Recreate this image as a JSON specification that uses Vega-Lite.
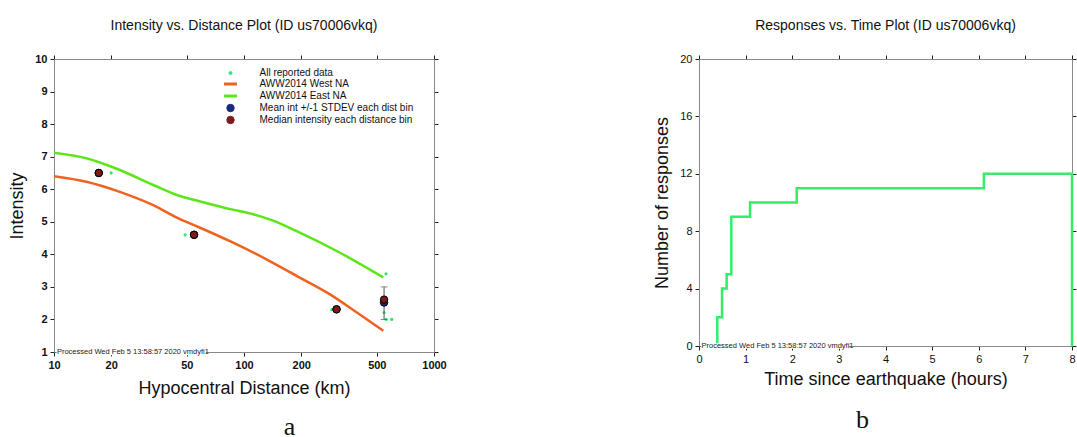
{
  "$schema": "https://vega.github.io/schema/vega-lite/v6.json",
  "background": "white",
  "padding": {"left": 8, "top": 19, "right": 0, "bottom": 0},
  "config": {
    "view": {"stroke": null},
    "font": "Liberation Sans",
    "title": {"font": "Liberation Sans", "fontSize": 14, "fontWeight": "normal", "color": "#111"},
    "axis": {"domainColor": "#8a8a8a", "tickColor": "#222", "tickSize": 4, "labelPadding": 3, "labelFont": "Liberation Sans", "labelFontSize": 11, "labelColor": "#111", "titleFont": "Liberation Sans", "titleFontSize": 18, "titleFontWeight": "normal", "titleColor": "#111", "grid": false}
  },
  "spacing": 206,
  "hconcat": [
    {
      "title": {"text": "a", "orient": "bottom", "anchor": "middle", "font": "Liberation Serif", "fontSize": 26, "offset": 17, "dx": 62, "color": "#111"},
      "vconcat": [
        {
          "title": {"text": "Intensity vs. Distance Plot (ID us70006vkq)", "offset": 20},
          "width": 380,
          "height": 293,
          "resolve": {"axis": {"x": "independent", "y": "independent"}},
          "layer": [
            {
              "data": {"values": [
                {"series": "AWW2014 West NA", "d": 10, "I": 6.40},
                {"series": "AWW2014 West NA", "d": 14.8, "I": 6.23},
                {"series": "AWW2014 West NA", "d": 22.2, "I": 5.92},
                {"series": "AWW2014 West NA", "d": 33.3, "I": 5.51},
                {"series": "AWW2014 West NA", "d": 46, "I": 5.08},
                {"series": "AWW2014 West NA", "d": 57.5, "I": 4.84},
                {"series": "AWW2014 West NA", "d": 86, "I": 4.38},
                {"series": "AWW2014 West NA", "d": 129, "I": 3.87},
                {"series": "AWW2014 West NA", "d": 193, "I": 3.31},
                {"series": "AWW2014 West NA", "d": 289, "I": 2.74},
                {"series": "AWW2014 West NA", "d": 400, "I": 2.18},
                {"series": "AWW2014 West NA", "d": 541, "I": 1.65},
                {"series": "AWW2014 East NA", "d": 10, "I": 7.12},
                {"series": "AWW2014 East NA", "d": 14.8, "I": 6.95},
                {"series": "AWW2014 East NA", "d": 22.2, "I": 6.59},
                {"series": "AWW2014 East NA", "d": 33.3, "I": 6.13},
                {"series": "AWW2014 East NA", "d": 46, "I": 5.79},
                {"series": "AWW2014 East NA", "d": 57.5, "I": 5.64},
                {"series": "AWW2014 East NA", "d": 86, "I": 5.38},
                {"series": "AWW2014 East NA", "d": 112, "I": 5.23},
                {"series": "AWW2014 East NA", "d": 140, "I": 5.05},
                {"series": "AWW2014 East NA", "d": 193, "I": 4.69},
                {"series": "AWW2014 East NA", "d": 313, "I": 4.08},
                {"series": "AWW2014 East NA", "d": 541, "I": 3.29}
              ]},
              "mark": {"type": "line", "strokeWidth": 2.5, "interpolate": "monotone"},
              "encoding": {
                "x": {"field": "d", "type": "quantitative", "scale": {"type": "log", "domain": [10, 1000]},
                      "axis": {"orient": "bottom", "values": [10, 20, 50, 100, 200, 500, 1000], "format": "d", "labelFontWeight": "bold", "title": "Hypocentral Distance (km)", "titlePadding": 9, "labelFlush": false}},
                "y": {"field": "I", "type": "quantitative", "scale": {"domain": [1, 10], "nice": false, "zero": false},
                      "axis": {"orient": "left", "values": [1, 2, 3, 4, 5, 6, 7, 8, 9, 10], "labelFontWeight": "bold", "title": "Intensity", "titlePadding": 8, "labelFlush": false}},
                "color": {"field": "series", "type": "nominal",
                  "scale": {"domain": ["All reported data", "AWW2014 West NA", "AWW2014 East NA", "Mean int +/-1 STDEV each dist bin", "Median intensity each distance bin"],
                            "range": ["#22ee66", "#f0621f", "#5be619", "#1c2a7a", "#7a1c1c"]},
                  "legend": {
                    "orient": "none", "legendX": 171.5, "legendY": 9, "title": null,
                    "labelFont": "Liberation Sans", "labelFontSize": 10, "labelColor": "#111",
                    "rowPadding": 0, "symbolSize": 60, "labelOffset": 24,
                    "encode": {"symbols": {"update": {
                      "shape": {"signal": "datum.value == 'AWW2014 West NA' || datum.value == 'AWW2014 East NA' ? 'stroke' : 'circle'"},
                      "size": {"signal": "datum.value == 'All reported data' ? 9 : (datum.value == 'AWW2014 West NA' || datum.value == 'AWW2014 East NA') ? 170 : 55"},
                      "fill": {"signal": "datum.value == 'All reported data' ? '#22ee66' : datum.value == 'Mean int +/-1 STDEV each dist bin' ? '#1c2a7a' : datum.value == 'Median intensity each distance bin' ? '#7a1c1c' : 'transparent'"},
                      "stroke": {"signal": "datum.value == 'AWW2014 West NA' ? '#f0621f' : datum.value == 'AWW2014 East NA' ? '#5be619' : datum.value == 'All reported data' ? 'transparent' : '#000'"},
                      "strokeWidth": {"signal": "(datum.value == 'AWW2014 West NA' || datum.value == 'AWW2014 East NA') ? 3 : 1"},
                      "opacity": {"value": 1}
                    }}}
                  }}
              }
            },
            {
              "data": {"values": [
                {"series": "All reported data", "d": 20, "I": 6.5},
                {"series": "All reported data", "d": 49, "I": 4.6},
                {"series": "All reported data", "d": 290, "I": 2.3},
                {"series": "All reported data", "d": 559, "I": 3.4},
                {"series": "All reported data", "d": 546, "I": 2.21},
                {"series": "All reported data", "d": 559, "I": 2.0},
                {"series": "All reported data", "d": 599, "I": 2.0}
              ]},
              "mark": {"type": "point", "filled": true, "size": 10, "opacity": 1},
              "encoding": {
                "x": {"field": "d", "type": "quantitative", "axis": {"orient": "top", "values": [10, 20, 50, 100, 200, 500, 1000], "labels": false, "title": null}},
                "y": {"field": "I", "type": "quantitative", "axis": {"orient": "right", "values": [1, 2, 3, 4, 5, 6, 7, 8, 9, 10], "labels": false, "title": null}},
                "color": {"field": "series", "type": "nominal", "legend": null}
              }
            },
            {
              "data": {"values": [{"d": 546, "lo": 2.0, "hi": 3.0}]},
              "mark": {"type": "rule", "color": "#555", "strokeWidth": 1},
              "encoding": {
                "x": {"field": "d", "type": "quantitative", "axis": null},
                "y": {"field": "lo", "type": "quantitative", "axis": null},
                "y2": {"field": "hi"}
              }
            },
            {
              "data": {"values": [{"d": 546, "v": 2.0}, {"d": 546, "v": 3.0}]},
              "mark": {"type": "tick", "orient": "horizontal", "color": "#555", "size": 7, "thickness": 1},
              "encoding": {
                "x": {"field": "d", "type": "quantitative", "axis": null},
                "y": {"field": "v", "type": "quantitative", "axis": null}
              }
            },
            {
              "data": {"values": [
                {"series": "Mean int +/-1 STDEV each dist bin", "d": 17.2, "I": 6.5},
                {"series": "Mean int +/-1 STDEV each dist bin", "d": 54.6, "I": 4.6},
                {"series": "Mean int +/-1 STDEV each dist bin", "d": 307, "I": 2.31},
                {"series": "Mean int +/-1 STDEV each dist bin", "d": 546, "I": 2.52},
                {"series": "Median intensity each distance bin", "d": 17.2, "I": 6.5},
                {"series": "Median intensity each distance bin", "d": 54.6, "I": 4.6},
                {"series": "Median intensity each distance bin", "d": 307, "I": 2.31},
                {"series": "Median intensity each distance bin", "d": 546, "I": 2.61}
              ]},
              "mark": {"type": "point", "filled": true, "size": 55, "stroke": "#000", "strokeWidth": 1, "opacity": 1},
              "encoding": {
                "x": {"field": "d", "type": "quantitative", "axis": null},
                "y": {"field": "I", "type": "quantitative", "axis": null},
                "color": {"field": "series", "type": "nominal", "legend": null},
                "stroke": {"value": "#000"}
              }
            },
            {
              "data": {"values": [{}]},
              "mark": {"type": "rect", "color": "white"},
              "encoding": {
                "x": {"datum": 10.15, "type": "quantitative", "axis": null},
                "x2": {"datum": 63},
                "y": {"datum": 0.9, "type": "quantitative", "axis": null},
                "y2": {"datum": 1.1}
              }
            },
            {
              "data": {"values": [{}]},
              "mark": {"type": "text", "align": "left", "baseline": "middle", "fontSize": 7.5, "color": "#222", "text": "-Processed Wed Feb  5 13:58:57 2020 vmdyfi1"},
              "encoding": {
                "x": {"datum": 10.05, "type": "quantitative", "axis": null},
                "y": {"datum": 1, "type": "quantitative", "axis": null}
              }
            }
          ]
        }
      ]
    },
    {
      "title": {"text": "b", "orient": "bottom", "anchor": "middle", "font": "Liberation Serif", "fontSize": 26, "offset": 19, "dx": -3, "color": "#111"},
      "vconcat": [
        {
          "title": {"text": "Responses vs. Time Plot (ID us70006vkq)", "offset": 20},
          "width": 373,
          "height": 287,
          "resolve": {"axis": {"x": "independent", "y": "independent"}},
          "layer": [
            {
              "data": {"values": [
                {"i": 0, "t": 0.393, "n": 0},
                {"i": 1, "t": 0.393, "n": 2},
                {"i": 2, "t": 0.494, "n": 4},
                {"i": 3, "t": 0.593, "n": 5},
                {"i": 4, "t": 0.693, "n": 9},
                {"i": 5, "t": 1.095, "n": 10},
                {"i": 6, "t": 2.096, "n": 11},
                {"i": 7, "t": 6.11, "n": 12},
                {"i": 8, "t": 8.0, "n": 12},
                {"i": 9, "t": 8.0, "n": 0}
              ]},
              "mark": {"type": "line", "interpolate": "step-after", "color": "#33ee66", "strokeWidth": 2.5},
              "encoding": {
                "x": {"field": "t", "type": "quantitative", "scale": {"domain": [0, 8], "nice": false},
                      "axis": {"orient": "bottom", "values": [0, 1, 2, 3, 4, 5, 6, 7, 8], "title": "Time since earthquake (hours)", "titlePadding": 6, "labelFlush": false}},
                "y": {"field": "n", "type": "quantitative", "scale": {"domain": [0, 20], "nice": false},
                      "axis": {"orient": "left", "values": [0, 4, 8, 12, 16, 20], "title": "Number of responses", "titlePadding": 8, "labelFlush": false}},
                "order": {"field": "i", "type": "quantitative"}
              }
            },
            {
              "data": {"values": [{}]},
              "mark": {"type": "rect", "color": "white"},
              "encoding": {
                "x": {"datum": 0.03, "type": "quantitative", "axis": {"orient": "top", "values": [0, 1, 2, 3, 4, 5, 6, 7, 8], "labels": false, "title": null}},
                "x2": {"datum": 3.22},
                "y": {"datum": -0.2, "type": "quantitative", "axis": {"orient": "right", "values": [0, 4, 8, 12, 16, 20], "labels": false, "title": null}},
                "y2": {"datum": 0.2}
              }
            },
            {
              "data": {"values": [{}]},
              "mark": {"type": "text", "align": "left", "baseline": "middle", "fontSize": 7.5, "color": "#222", "text": "-Processed Wed Feb  5 13:58:57 2020 vmdyfi1"},
              "encoding": {
                "x": {"datum": 0.0, "type": "quantitative", "axis": null},
                "y": {"datum": 0, "type": "quantitative", "axis": null}
              }
            }
          ]
        }
      ]
    }
  ]
}
